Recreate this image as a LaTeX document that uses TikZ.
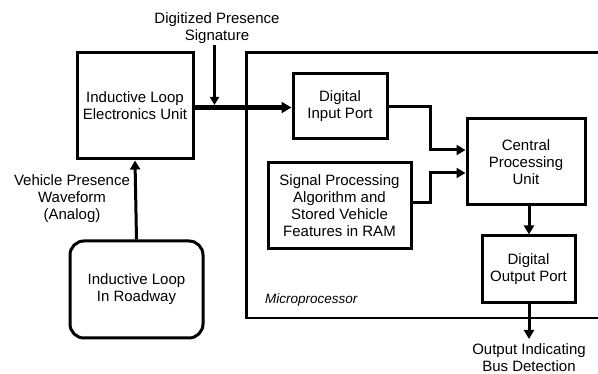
\documentclass[tikz,border=0pt]{standalone}
\usepackage{fontspec}
\setmainfont{Liberation Sans}
\usetikzlibrary{arrows.meta}
\begin{document}
\begin{tikzpicture}[x=1pt,y=-1pt,
  font=\fontsize{15}{17}\selectfont,
  blockbox/.style={draw,line width=3pt,align=center,inner sep=0pt},
  flow/.style={line width=3pt,-{Triangle[length=9pt,width=10pt]}},
  heavyflow/.style={line width=4.5pt,-{Triangle[length=10pt,width=11pt]}},
  thinflow/.style={line width=2.2pt,-{Triangle[length=8pt,width=9pt]}},
  lbl/.style={align=center,inner sep=0pt}]
\useasboundingbox (0,0) rectangle (598,374);

% microprocessor frame, open on the right
\draw[line width=2.3pt] (598,52.5) -- (246.5,52.5) -- (246.5,318) -- (598,318);
\node[lbl,anchor=west,font=\fontsize{13.5}{15}\selectfont\itshape] (mp) at (265,300) {Microprocessor};

% blocks
\node[blockbox,minimum width=116pt,minimum height=106pt] (elu) at (135,106) {Inductive Loop\\Electronics Unit};
\node[blockbox,rounded corners=14pt,minimum width=133pt,minimum height=97pt] (loop) at (136.5,289.5) {Inductive Loop\\In Roadway};
\node[blockbox,minimum width=94pt,minimum height=65pt] (dip) at (340,106.5) {Digital\\Input Port};
\node[blockbox,minimum width=118pt,minimum height=86pt] (cpu) at (526,162) {Central\\Processing\\Unit};
\node[blockbox,minimum width=143pt,minimum height=86pt] (sp) at (339.5,206) {Signal Processing\\Algorithm and\\Stored Vehicle\\Features in RAM};
\node[blockbox,minimum width=93pt,minimum height=67pt] (dop) at (528.5,269.5) {Digital\\Output Port};

% labels
\node[lbl] (dps) at (217,28) {Digitized Presence\\Signature};
\node[lbl] (vpw) at (72,199) {Vehicle Presence\\Waveform\\(Analog)};
\node[lbl] (oibd) at (529,358) {Output Indicating\\Bus Detection};

% connectors
\coordinate (sigtop) at (214.5,45);
\coordinate (outend) at (529,339);
\draw[thinflow] (sigtop) -- (214.5,105);
\draw[heavyflow] (elu.east |- 0,107.5) -- (dip.west |- 0,107.5);
\draw[flow] (loop.north) -- (elu.south);
\draw[flow] (dip.east |- 0,107) -- (430,107) -- (430,150) -- (cpu.west |- 0,150);
\draw[flow] (sp.east |- 0,203) -- (430,203) -- (430,173) -- (cpu.west |- 0,173);
\draw[flow] (cpu.south -| 529,0) -- (dop.north -| 529,0);
\draw[flow] (dop.south -| 529,0) -- (outend);
\end{tikzpicture}
\end{document}
